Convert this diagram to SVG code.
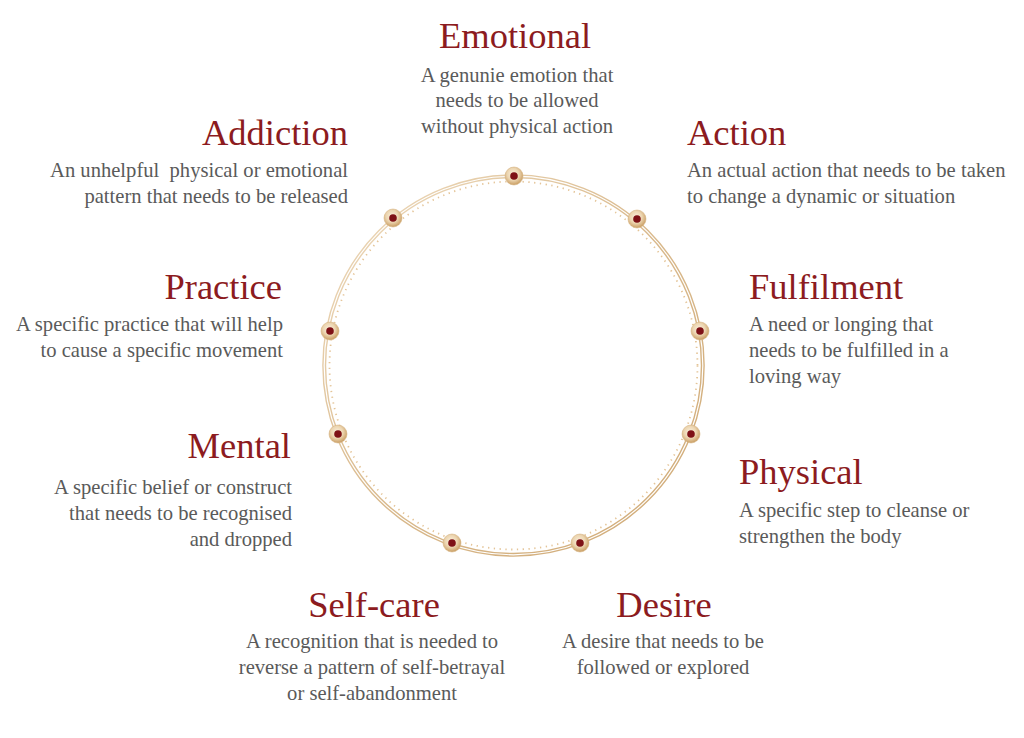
<svg xmlns="http://www.w3.org/2000/svg" width="1024" height="738" viewBox="0 0 1024 738">
<defs>
<radialGradient id="bead" cx="0.45" cy="0.4" r="0.6">
<stop offset="0" stop-color="#fbf1df"/>
<stop offset="0.55" stop-color="#ecd5b0"/>
<stop offset="1" stop-color="#c99d62"/>
</radialGradient>
<linearGradient id="ringGrad" x1="0" y1="0" x2="1" y2="1">
<stop offset="0" stop-color="#efdcbf"/>
<stop offset="0.5" stop-color="#d9b98c"/>
<stop offset="1" stop-color="#d0aa76"/>
</linearGradient>
</defs>
<style>
.title{font-family:"Liberation Serif","Times New Roman",serif;font-size:36.5px;fill:#8c1b20}
.body{font-family:"Liberation Serif","Times New Roman",serif;font-size:20.6px;fill:#5a5a5a}
.ring{fill:none;stroke:url(#ringGrad);stroke-width:1.4}
.dots{fill:none;stroke:#e4c497;stroke-width:1.8;stroke-dasharray:1.3 4.5}
.bead{fill:url(#bead);stroke:#d7b585;stroke-width:0.6}
.core{fill:#7e1116}
.end{text-anchor:end}
.mid{text-anchor:middle}
</style>
<rect width="1024" height="738" fill="#ffffff"/>
<g id="connectors">
<circle class="ring" cx="513.5" cy="365.5" r="188"/>
<circle class="ring" cx="513.5" cy="365.5" r="190.6"/>
<circle class="dots" cx="513.5" cy="365.5" r="184"/>
</g>
<g id="emotional">
<circle class="bead" cx="514" cy="176" r="9"/><circle class="core" cx="514" cy="176" r="3.8"/>
<text class="title mid" x="515" y="48">Emotional</text>
<text class="body mid" x="517" y="81.5">A genunie emotion that</text>
<text class="body mid" x="517" y="107">needs to be allowed</text>
<text class="body mid" x="517" y="132.5">without physical action</text>
</g>
<g id="action">
<circle class="bead" cx="637" cy="219" r="9"/><circle class="core" cx="637" cy="219" r="3.8"/>
<text class="title" x="687" y="144.5">Action</text>
<text class="body" x="687" y="177">An actual action that needs to be taken</text>
<text class="body" x="687" y="202.5">to change a dynamic or situation</text>
</g>
<g id="fulfilment">
<circle class="bead" cx="700" cy="331" r="9"/><circle class="core" cx="700" cy="331" r="3.8"/>
<text class="title" x="749" y="298.5">Fulfilment</text>
<text class="body" x="749" y="330.5">A need or longing that</text>
<text class="body" x="749" y="356.5">needs to be fulfilled in a</text>
<text class="body" x="749" y="382.5">loving way</text>
</g>
<g id="physical">
<circle class="bead" cx="691" cy="434" r="9"/><circle class="core" cx="691" cy="434" r="3.8"/>
<text class="title" x="739" y="483.5">Physical</text>
<text class="body" x="739" y="517">A specific step to cleanse or</text>
<text class="body" x="739" y="543">strengthen the body</text>
</g>
<g id="desire">
<circle class="bead" cx="580" cy="543" r="9"/><circle class="core" cx="580" cy="543" r="3.8"/>
<text class="title mid" x="664" y="616.5">Desire</text>
<text class="body mid" x="663" y="647.5">A desire that needs to be</text>
<text class="body mid" x="663" y="673.5">followed or explored</text>
</g>
<g id="self-care">
<circle class="bead" cx="452" cy="543" r="9"/><circle class="core" cx="452" cy="543" r="3.8"/>
<text class="title mid" x="374" y="616.5">Self-care</text>
<text class="body mid" x="372" y="647.5">A recognition that is needed to</text>
<text class="body mid" x="372" y="673.5">reverse a pattern of self-betrayal</text>
<text class="body mid" x="372" y="699.5">or self-abandonment</text>
</g>
<g id="mental">
<circle class="bead" cx="338" cy="434" r="9"/><circle class="core" cx="338" cy="434" r="3.8"/>
<text class="title end" x="291" y="458">Mental</text>
<text class="body end" x="292" y="494">A specific belief or construct</text>
<text class="body end" x="292" y="520">that needs to be recognised</text>
<text class="body end" x="292" y="546">and dropped</text>
</g>
<g id="practice">
<circle class="bead" cx="330" cy="331" r="9"/><circle class="core" cx="330" cy="331" r="3.8"/>
<text class="title end" x="282" y="298.5">Practice</text>
<text class="body end" x="283" y="330.5">A specific practice that will help</text>
<text class="body end" x="283" y="356.5">to cause a specific movement</text>
</g>
<g id="addiction">
<circle class="bead" cx="393" cy="218" r="9"/><circle class="core" cx="393" cy="218" r="3.8"/>
<text class="title end" x="348" y="144.5">Addiction</text>
<text class="body end" x="348" y="177" style="white-space:pre">An unhelpful  physical or emotional</text>
<text class="body end" x="348" y="202.5">pattern that needs to be released</text>
</g>
</svg>
